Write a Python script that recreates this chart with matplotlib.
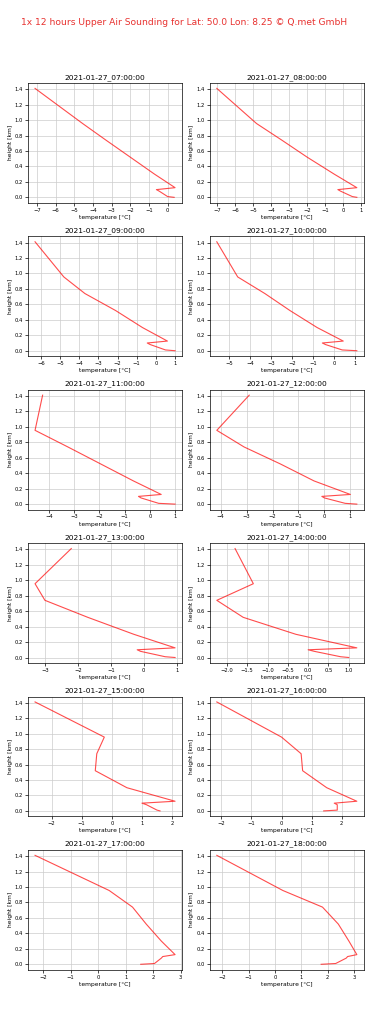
import matplotlib
matplotlib.use("Agg")
import matplotlib.pyplot as plt

# Zeitpunkte der Sondierungen
times = ["2021-01-27_07:00:00", "2021-01-27_08:00:00", "2021-01-27_09:00:00",
         "2021-01-27_10:00:00", "2021-01-27_11:00:00", "2021-01-27_12:00:00",
         "2021-01-27_13:00:00", "2021-01-27_14:00:00", "2021-01-27_15:00:00",
         "2021-01-27_16:00:00", "2021-01-27_17:00:00", "2021-01-27_18:00:00"]

# Hoehen der Modellflaechen [km]
height = [0.0, 0.01, 0.08, 0.1, 0.125, 0.3, 0.52, 0.74, 0.955, 1.41]

# Temperatur [°C] je Stunde
t07 = [0.35, 0.0, -0.45, -0.6, 0.4, -0.7, -2.0, -3.3, -4.55, -7.1]
t08 = [0.75, 0.5, -0.15, -0.3, 0.75, -0.5, -2.0, -3.4, -4.8, -7.0]
t09 = [1.0, 0.5, -0.3, -0.45, 0.6, -0.7, -2.1, -3.7, -4.8, -6.3]
t10 = [1.1, 0.4, -0.4, -0.55, 0.45, -0.8, -2.1, -3.3, -4.6, -5.6]
t11 = [1.0, 0.35, -0.35, -0.45, 0.45, -0.65, -1.95, -3.25, -4.55, -4.25]
t12 = [1.25, 0.8, 0.0, -0.1, 1.0, -0.4, -1.7, -3.1, -4.15, -2.9]
t13 = [0.95, 0.65, -0.1, -0.2, 0.95, -0.3, -1.7, -3.0, -3.3, -2.2]
t14 = [1.0, 0.8, 0.15, 0.0, 1.2, -0.3, -1.6, -2.25, -1.35, -1.8]
t15 = [1.6, 1.5, 1.15, 1.0, 2.1, 0.5, -0.55, -0.5, -0.25, -2.55]
t16 = [1.4, 1.85, 1.85, 1.75, 2.5, 1.5, 0.7, 0.65, 0.0, -2.15]
t17 = [1.55, 2.05, 2.3, 2.35, 2.8, 2.3, 1.75, 1.25, 0.4, -2.3]
t18 = [1.75, 2.3, 2.7, 2.75, 3.1, 2.8, 2.4, 1.8, 0.3, -2.2]

temps = [t07, t08, t09, t10, t11, t12, t13, t14, t15, t16, t17, t18]

fig, axs = plt.subplots(6, 2, figsize=(3.69, 10.24), dpi=100)
plt.subplots_adjust(left=0.076, right=0.986, top=0.919, bottom=0.053,
                    wspace=0.18, hspace=0.28)

fig.text(0.5, 0.978, "1x 12 hours Upper Air Sounding for Lat: 50.0 Lon: 8.25 \u00a9 Q.met GmbH",
         ha='center', va='center', color='#e8312f', fontsize=6.6)

for i in range(len(times)):
    ax = axs[i // 2, i % 2]
    ax.plot(temps[i], height, color='red', alpha=0.7, linewidth=0.8)
    ax.set_title(times[i], fontsize=5.4, pad=3)
    ax.set_xlabel('temperature [°C]', fontsize=4.3, labelpad=1.5)
    ax.set_ylabel('height [km]', fontsize=4.3, labelpad=1.5)
    ax.set_yticks([0.0, 0.2, 0.4, 0.6, 0.8, 1.0, 1.2, 1.4])
    ax.tick_params(labelsize=3.8, length=2, width=0.5, pad=1.5)
    ax.grid(True, linewidth=0.5, color='#cccccc')
    for s in ax.spines.values():
        s.set_linewidth(0.5)

plt.savefig('out.png', dpi=100)
